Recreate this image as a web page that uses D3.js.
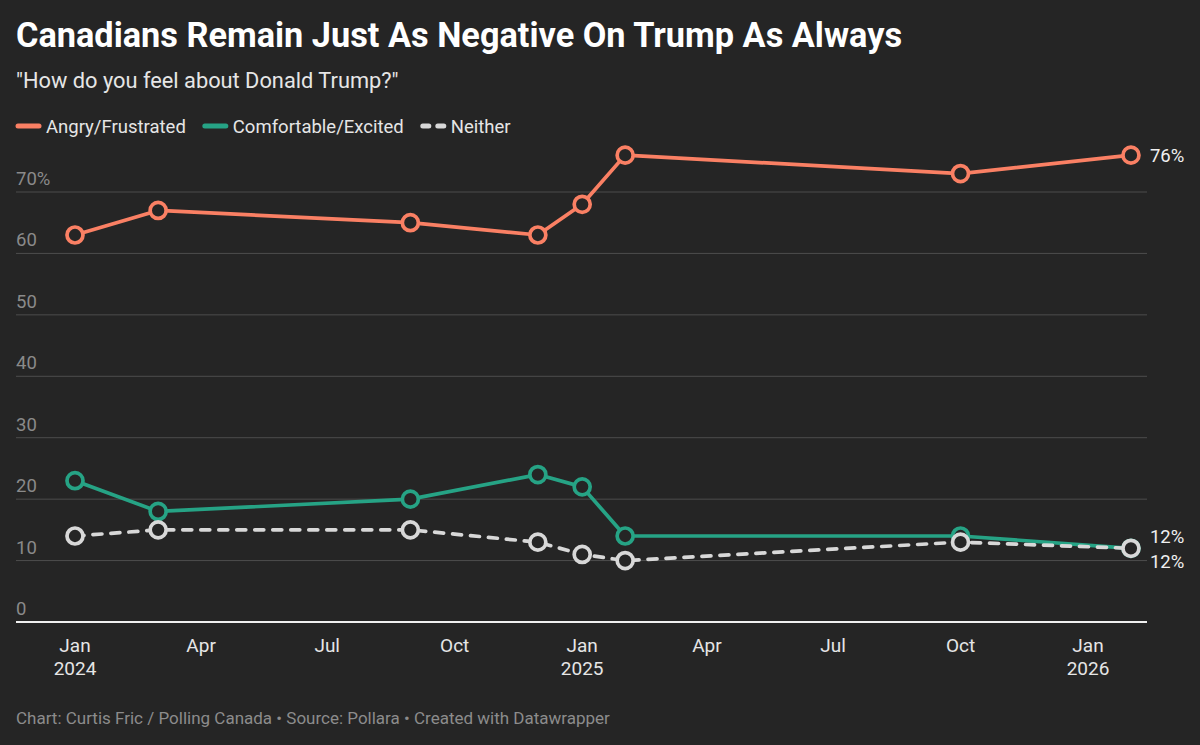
<!DOCTYPE html>
<html>
<head>
<meta charset="utf-8">
<script src="https://cdn.jsdelivr.net/npm/d3@7"></script>
<style>
  body { margin: 0; background: #252525; }
  svg text { font-family: Roboto, "Noto Sans", sans-serif; }
</style>
</head>
<body>
<svg id="chart"></svg>
<script>
// poll dates and values
const dates = ["2024-01-01", "2024-03-01", "2024-08-30", "2024-11-30", "2025-01-01", "2025-02-01", "2025-10-01", "2026-02-01"];
const angry = [63, 67, 65, 63, 68, 76, 73, 76];
const comfortable = [23, 18, 20, 24, 22, 14, 14, 12];
const neither = [14, 15, 15, 13, 11, 10, 13, 12];
const yTicks = [0, 10, 20, 30, 40, 50, 60, 70];
const xTicks = ["2024-01-01", "2024-04-01", "2024-07-01", "2024-10-01", "2025-01-01", "2025-04-01", "2025-07-01", "2025-10-01", "2026-01-01"];

const width = 1200, height = 745;
const parse = d3.timeParse("%Y-%m-%d");

const series = [
  { name: "Angry/Frustrated", values: angry, color: "#fa8064", dash: null },
  { name: "Comfortable/Excited", values: comfortable, color: "#26a385", dash: null },
  { name: "Neither", values: neither, color: "#d8d8d8", dash: "9,9" }
];

const svg = d3.select("#chart").attr("width", width).attr("height", height);

svg.append("rect").attr("width", width).attr("height", height).attr("fill", "#252525");

// title block
svg.append("text").attr("x", 16).attr("y", 47)
  .attr("font-size", 34.3).attr("font-weight", 700).attr("fill", "#ffffff")
  .text("Canadians Remain Just As Negative On Trump As Always");

svg.append("text").attr("x", 16).attr("y", 88)
  .attr("font-size", 21.8).attr("fill", "#e6e6e6")
  .text("\"How do you feel about Donald Trump?\"");

// legend
const legend = svg.append("g").attr("transform", "translate(16,126)");
let lx = 0;
series.forEach(s => {
  const g = legend.append("g").attr("transform", `translate(${lx},0)`);
  if (s.dash) {
    g.append("line").attr("x1", 2).attr("x2", 8).attr("stroke", s.color)
      .attr("stroke-width", 5).attr("stroke-linecap", "round");
    g.append("line").attr("x1", 17).attr("x2", 23).attr("stroke", s.color)
      .attr("stroke-width", 5).attr("stroke-linecap", "round");
  } else {
    g.append("line").attr("x1", 2).attr("x2", 23).attr("stroke", s.color)
      .attr("stroke-width", 5).attr("stroke-linecap", "round");
  }
  const t = g.append("text").attr("x", 30).attr("y", 6.5)
    .attr("font-size", 18.5).attr("fill", "#e6e6e6").text(s.name);
  lx += 30 + t.node().getComputedTextLength() + 17;
});

// scales
const x = d3.scaleTime()
  .domain([parse("2024-01-01"), parse("2026-01-01")])
  .range([75, 1088]);
const y = d3.scaleLinear().domain([0, 70]).range([622, 192]);
const left = 16, right = 1147;

// grid + y labels
const grid = svg.append("g");
yTicks.forEach(v => {
  if (v > 0) {
    grid.append("line").attr("x1", left).attr("x2", right)
      .attr("y1", y(v)).attr("y2", y(v))
      .attr("stroke", "#4d4d4d").attr("stroke-width", 1);
  }
  grid.append("text").attr("x", left).attr("y", y(v) - 7)
    .attr("font-size", 18.5).attr("fill", "#8a8a8a")
    .text(v === 70 ? v + "%" : v);
});

// baseline
svg.append("line").attr("x1", left).attr("x2", right)
  .attr("y1", y(0)).attr("y2", y(0))
  .attr("stroke", "#f0f0f0").attr("stroke-width", 2);

// x axis labels
const fmtMon = d3.timeFormat("%b"), fmtYear = d3.timeFormat("%Y");
const xa = svg.append("g");
xTicks.map(parse).forEach(d => {
  const t = xa.append("text").attr("x", x(d)).attr("y", 652)
    .attr("text-anchor", "middle").attr("font-size", 19).attr("fill", "#e6e6e6");
  t.append("tspan").attr("x", x(d)).text(fmtMon(d));
  if (d.getMonth() === 0) {
    t.append("tspan").attr("x", x(d)).attr("dy", 23).text(fmtYear(d));
  }
});

// lines and markers
const line = d3.line()
  .x((d, i) => x(parse(dates[i])))
  .y(d => y(d));

series.forEach(s => {
  svg.append("path").datum(s.values)
    .attr("d", line)
    .attr("fill", "none")
    .attr("stroke", s.color)
    .attr("stroke-width", 3.7)
    .attr("stroke-linejoin", "round")
    .attr("stroke-linecap", "round")
    .attr("stroke-dasharray", s.dash);
  svg.append("g").selectAll("circle").data(s.values).enter()
    .append("circle")
    .attr("cx", (d, i) => x(parse(dates[i])))
    .attr("cy", d => y(d))
    .attr("r", 8)
    .attr("fill", "#252525")
    .attr("stroke", s.color)
    .attr("stroke-width", 3.7);
});

// end labels
const lastX = x(parse(dates[dates.length - 1])) + 19;
const endLabels = [
  { v: angry[angry.length - 1], dy: 0 },
  { v: comfortable[comfortable.length - 1], dy: -12 },
  { v: neither[neither.length - 1], dy: 13 }
];
endLabels.forEach(l => {
  svg.append("text").attr("x", lastX).attr("y", y(l.v) + l.dy)
    .attr("dy", "0.35em").attr("font-size", 18.5).attr("fill", "#f0f0f0")
    .text(l.v + "%");
});

// footer
svg.append("text").attr("x", 16).attr("y", 724)
  .attr("font-size", 17).attr("fill", "#8c8c8c")
  .text("Chart: Curtis Fric / Polling Canada • Source: Pollara • Created with Datawrapper");
</script>
</body>
</html>
